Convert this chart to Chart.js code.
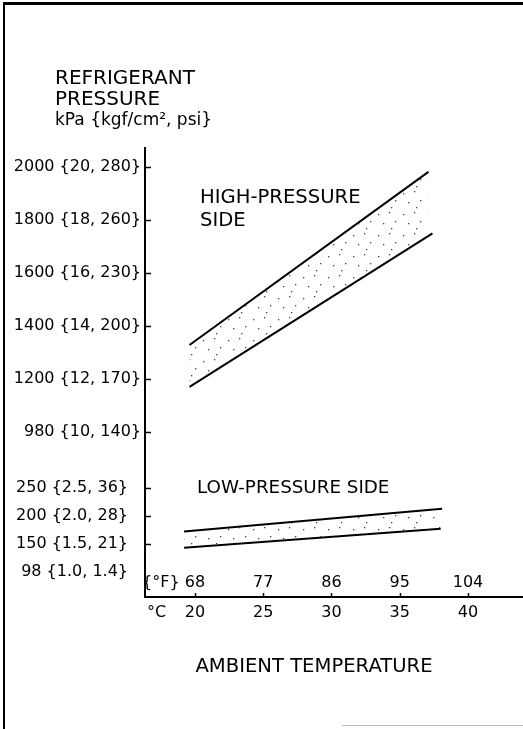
<!DOCTYPE html>
<html>
<head>
<meta charset="utf-8">
<script src="https://cdn.jsdelivr.net/npm/chart.js@4/dist/chart.umd.min.js"></script>
<style>
html,body{margin:0;padding:0;background:#fff;}
#wrap{position:relative;width:523px;height:729px;overflow:hidden;background:#fff;}
#c{position:absolute;left:0;top:0;}
#frameTop{position:absolute;left:3px;top:2px;width:520px;height:3px;background:#000;}
#frameLeft{position:absolute;left:3px;top:2px;width:2px;height:727px;background:#000;}
#frameBot{position:absolute;left:342px;top:725px;width:181px;height:1px;background:#bbb;}
</style>
</head>
<body>
<div id="wrap">
  <canvas id="c" width="523" height="729"></canvas>
  <div id="frameTop"></div>
  <div id="frameLeft"></div>
  <div id="frameBot"></div>
</div>
<script>
// ---- data ----
const celsiusTicks = [20, 25, 30, 35, 40];
const fahrenheitLabels = ['68', '77', '86', '95', '104'];

const highTicks = [1000, 1200, 1400, 1600, 1800, 2000];
const highTickLabels = ['980 {10, 140}', '1200 {12, 170}', '1400 {14, 200}', '1600 {16, 230}', '1800 {18, 260}', '2000 {20, 280}'];
const lowTicks = [100, 150, 200, 250];
const lowTickLabels = ['98 {1.0, 1.4}', '150 {1.5, 21}', '200 {2.0, 28}', '250 {2.5, 36}'];

const highUpperTemp = [19.6, 37.1];
const highUpperKpa  = [1328, 1982];
const highLowerTemp = [19.6, 37.4];
const highLowerKpa  = [1170, 1750];

const lowUpperTemp = [19.2, 38.1];
const lowUpperKpa  = [172, 213];
const lowLowerTemp = [19.2, 38.0];
const lowLowerKpa  = [143, 177];

const yTitleLines = ['REFRIGERANT', 'PRESSURE', 'kPa {kgf/cm², psi}'];
const xTitle = 'AMBIENT TEMPERATURE';
const highLabelLines = ['HIGH-PRESSURE', 'SIDE'];
const lowLabel = 'LOW-PRESSURE SIDE';

// ---- helpers ----
const FONT = '"DejaVu Sans", sans-serif';
const pts = (xs, ys) => xs.map((x, i) => ({ x: x, y: ys[i] }));

const canvas = document.getElementById('c');
const ctx = canvas.getContext('2d');

function dotPattern() {
  const p = document.createElement('canvas');
  p.width = 25; p.height = 21;
  const g = p.getContext('2d');
  g.fillStyle = '#444';
  [[3,4],[14,2],[20,11],[8,13],[16,18]].forEach(([x, y]) => g.fillRect(x, y, 1.3, 1.3));
  return ctx.createPattern(p, 'repeat');
}
const stipple = dotPattern();

const lineStyle = { borderColor: '#000', borderWidth: 2, pointRadius: 0, tension: 0 };

const decorations = {
  id: 'decorations',
  afterDraw(chart) {
    const c = chart.ctx;
    const xs = chart.scales.x, yh = chart.scales.yHigh, yl = chart.scales.yLow;
    const left = chart.chartArea.left, bottom = chart.chartArea.bottom;
    c.save();
    c.strokeStyle = '#000';
    c.lineWidth = 1.5;
    // y tick marks pointing inward
    highTicks.forEach(v => {
      const y = Math.round(yh.getPixelForValue(v)) + 0.5;
      c.beginPath(); c.moveTo(left, y); c.lineTo(left + 6, y); c.stroke();
    });
    lowTicks.slice(1).forEach(v => {
      const y = Math.round(yl.getPixelForValue(v)) + 0.5;
      c.beginPath(); c.moveTo(left, y); c.lineTo(left + 6, y); c.stroke();
    });
    // x tick marks pointing up
    celsiusTicks.forEach(v => {
      const x = Math.round(xs.getPixelForValue(v)) + 0.5;
      c.beginPath(); c.moveTo(x, bottom); c.lineTo(x, bottom - 4); c.stroke();
    });
    c.fillStyle = '#000';
    c.textBaseline = 'middle';
    // Fahrenheit labels above the axis
    c.font = '16px ' + FONT;
    c.textAlign = 'center';
    celsiusTicks.forEach((v, i) => c.fillText(fahrenheitLabels[i], xs.getPixelForValue(v), 583));
    c.textAlign = 'left';
    c.fillText('{°F}', 142, 583);
    c.fillText('°C', 147, 613);
    // y title
    c.font = '20px ' + FONT;
    c.fillText(yTitleLines[0], 55, 79);
    c.fillText(yTitleLines[1], 55, 100);
    c.font = '17px ' + FONT;
    c.fillText(yTitleLines[2], 55, 121);
    // band labels
    c.font = '19.6px ' + FONT;
    c.fillText(highLabelLines[0], 200, 198);
    c.fillText(highLabelLines[1], 200, 221);
    c.font = '18.3px ' + FONT;
    c.fillText(lowLabel, 197, 488);
    // x title
    c.font = '19.6px ' + FONT;
    c.textAlign = 'center';
    c.fillText(xTitle, 314, 667);
    c.restore();
  }
};

new Chart(ctx, {
  type: 'line',
  data: {
    datasets: [
      Object.assign({ data: pts(highUpperTemp, highUpperKpa), yAxisID: 'yHigh', fill: '+1', backgroundColor: stipple }, lineStyle),
      Object.assign({ data: pts(highLowerTemp, highLowerKpa), yAxisID: 'yHigh', fill: false }, lineStyle),
      Object.assign({ data: pts(lowUpperTemp, lowUpperKpa), yAxisID: 'yLow', fill: '+1', backgroundColor: stipple }, lineStyle),
      Object.assign({ data: pts(lowLowerTemp, lowLowerKpa), yAxisID: 'yLow', fill: false }, lineStyle)
    ]
  },
  options: {
    responsive: false,
    animation: false,
    devicePixelRatio: 1,
    layout: { padding: { top: 148, left: 0, right: 0, bottom: 0 } },
    plugins: { legend: { display: false }, tooltip: { enabled: false } },
    scales: {
      x: {
        type: 'linear', min: 16.34, max: 44.03,
        afterBuildTicks: s => { s.ticks = celsiusTicks.map(v => ({ value: v })); },
        ticks: { padding: 6, color: '#000', font: { family: FONT, size: 16 }, maxRotation: 0, autoSkip: false },
        grid: { display: false, drawTicks: false },
        border: { color: '#000', width: 2 },
        afterFit: s => { s.height = 132; }
      },
      yLow: {
        type: 'linear', position: 'left', stack: 'pressure', stackWeight: 137,
        min: 55, max: 300,
        afterBuildTicks: s => { s.ticks = lowTicks.map(v => ({ value: v })); },
        ticks: { padding: 17, color: '#000', font: { family: FONT, size: 16 }, callback: (v, i) => lowTickLabels[i] },
        grid: { display: false, drawTicks: false },
        border: { color: '#000', width: 2 },
        afterFit: s => { s.width = 145; }
      },
      yHigh: {
        type: 'linear', position: 'left', stack: 'pressure', stackWeight: 312,
        min: 894, max: 2072,
        afterBuildTicks: s => { s.ticks = highTicks.map(v => ({ value: v })); },
        ticks: { padding: 4, color: '#000', font: { family: FONT, size: 16 }, callback: (v, i) => highTickLabels[i] },
        grid: { display: false, drawTicks: false },
        border: { color: '#000', width: 2 },
        afterFit: s => { s.width = 145; }
      }
    }
  },
  plugins: [decorations]
});
</script>
</body>
</html>
